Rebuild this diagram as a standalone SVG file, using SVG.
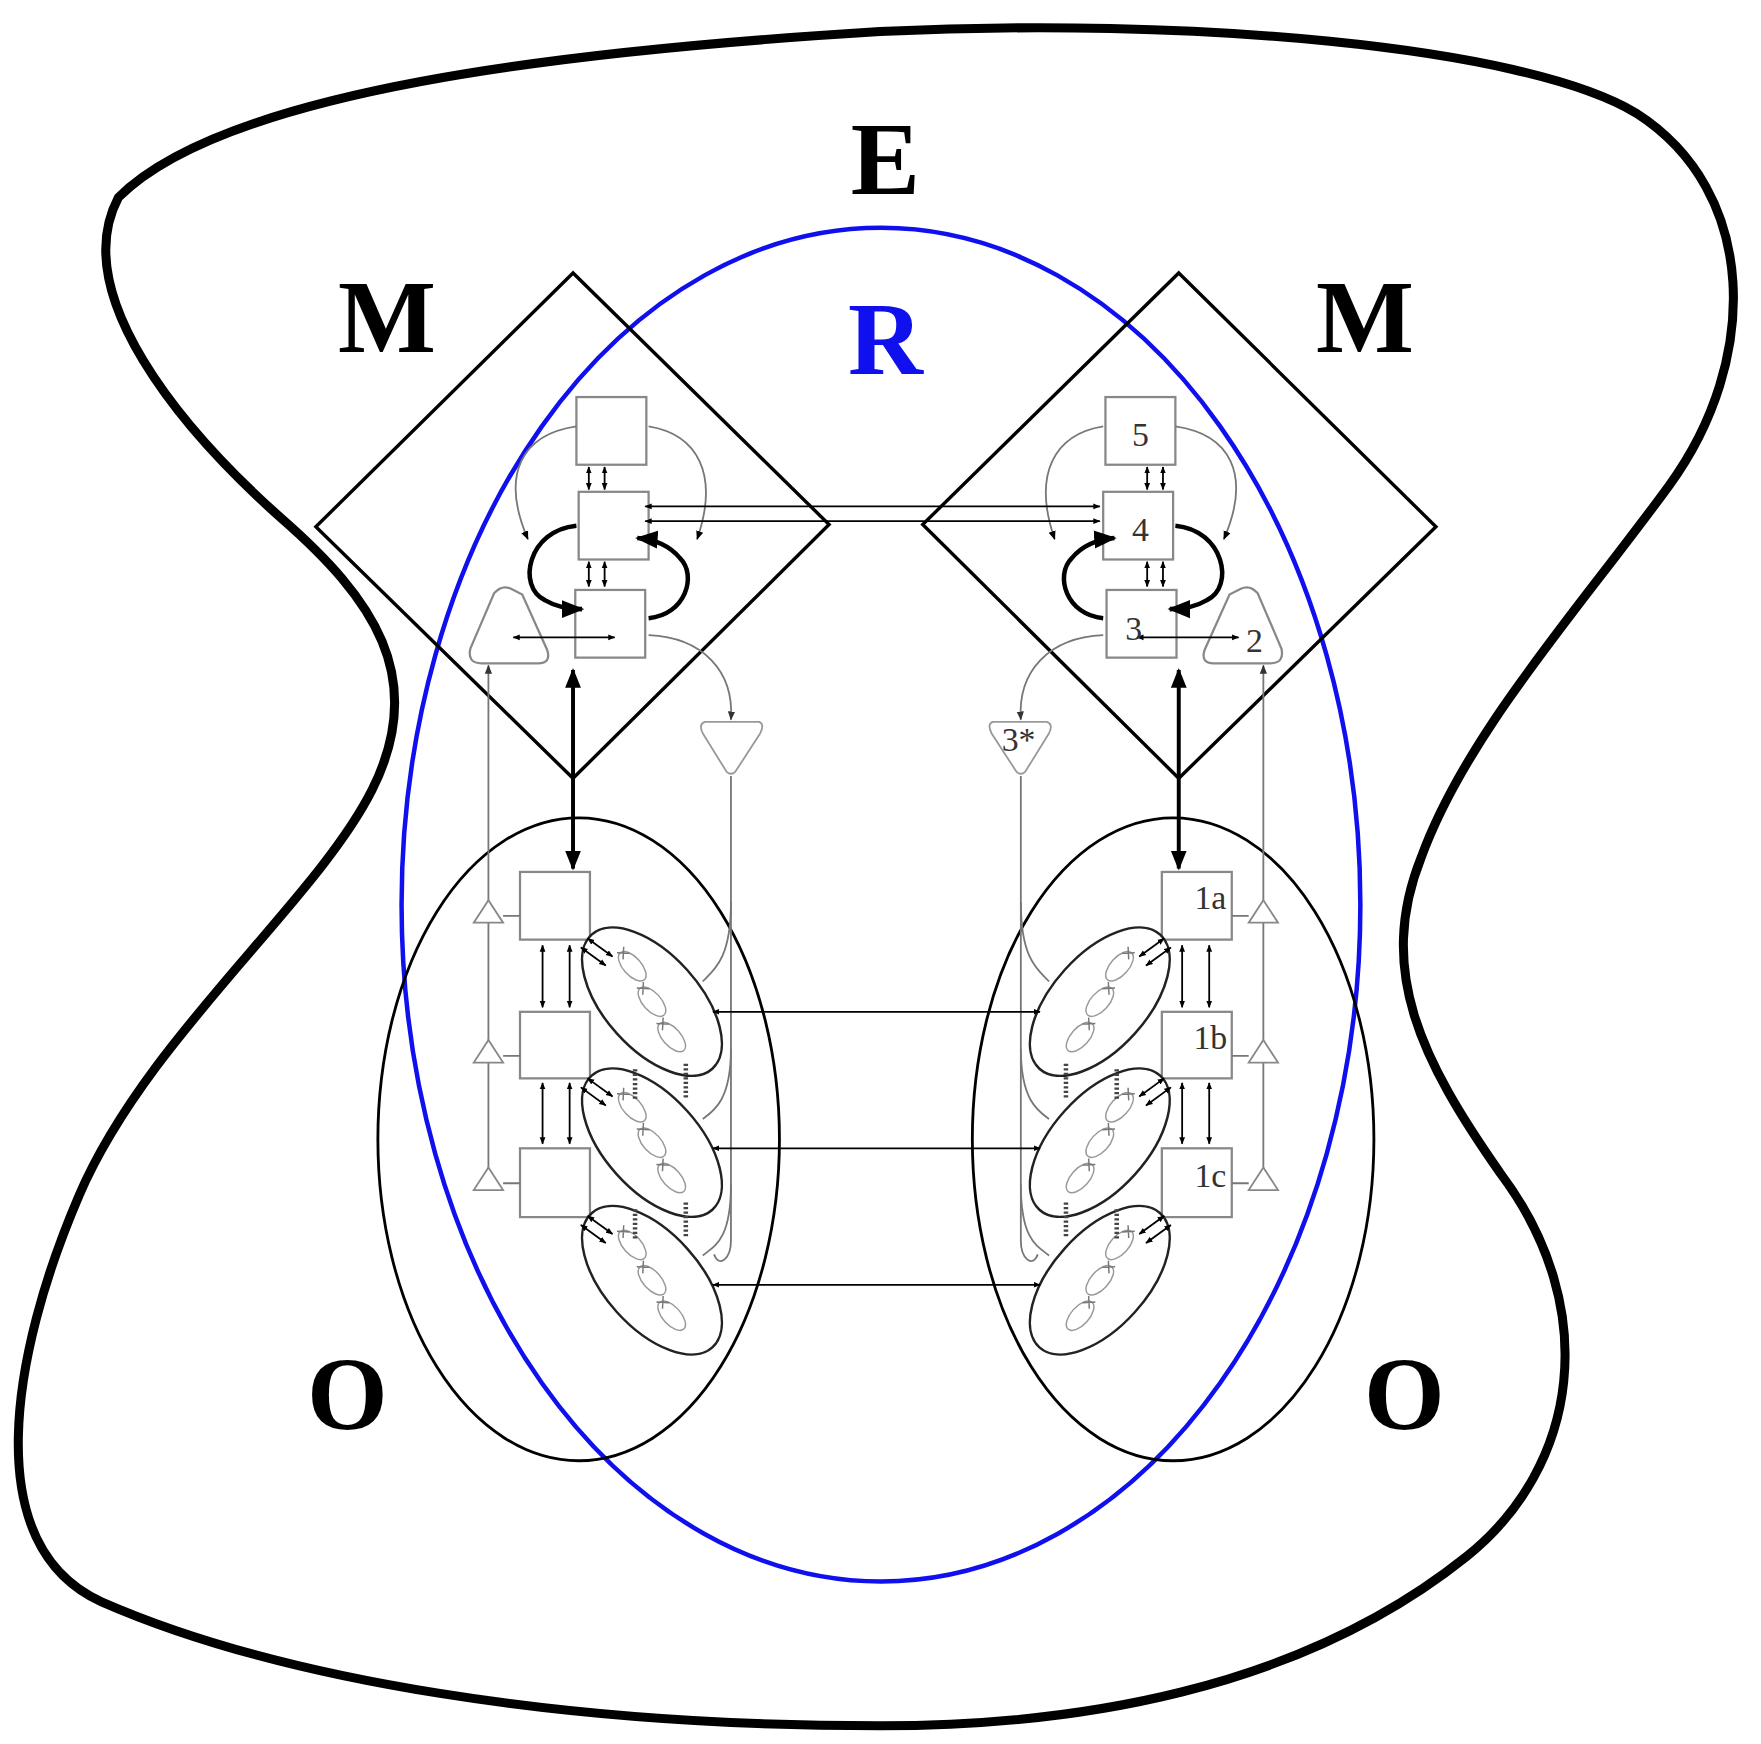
<svg xmlns="http://www.w3.org/2000/svg" width="1761" height="1744" viewBox="0 0 1761 1744">
<defs>
<marker id="a" viewBox="0 0 10 10" refX="9" refY="5" markerWidth="5" markerHeight="5" orient="auto-start-reverse"><path d="M0,1 L10,5 L0,9 z" fill="#000"/></marker>
<marker id="ag" viewBox="0 0 10 10" refX="9" refY="5" markerWidth="5" markerHeight="5" orient="auto-start-reverse"><path d="M0,1 L10,5 L0,9 z" fill="#333"/></marker>
<marker id="ab" viewBox="0 0 10 10" refX="9" refY="5" markerWidth="4" markerHeight="4" orient="auto-start-reverse"><path d="M0,1 L10,5 L0,9 z" fill="#000"/></marker>
<g id="eg">
<ellipse cx="0" cy="0" rx="80" ry="42" fill="#fff" stroke="#222" stroke-width="2.2"/>
<ellipse cx="35" cy="-8" rx="16" ry="8" fill="none" stroke="#999" stroke-width="1.3"/>
<ellipse cx="0" cy="0" rx="16" ry="8" fill="none" stroke="#999" stroke-width="1.3"/>
<ellipse cx="-35" cy="8" rx="16" ry="8" fill="none" stroke="#999" stroke-width="1.3"/>
<path d="M45,-14 l8,8 M45,-6 l8,-8 M10,-6 l8,8 M10,2 l8,-8 M-25,2 l8,8 M-25,10 l8,-8" stroke="#777" stroke-width="1.3"/>
</g>
</defs>
<style>
.big{font-family:"Liberation Serif",serif;font-weight:bold;font-size:92px;text-anchor:middle}
.lab{font-family:"Liberation Serif",serif;font-size:30px;fill:#333}
.bx{fill:#fff;stroke:#888;stroke-width:2}
.g{fill:none;stroke:#777;stroke-width:1.6}
.k{fill:none;stroke:#000;stroke-width:1.6}
.d{fill:none;stroke:#000;stroke-width:1.6;marker-start:url(#ab);marker-end:url(#ab)}
.kk{fill:none;stroke:#000;stroke-width:4}
</style>
<rect width="1761" height="1744" fill="#fff"/>
<g transform="scale(1.128)">
<g id="environment">
<path d="M105,175 C200,80 500,45 780,28 C1050,15 1350,40 1450,100 C1560,170 1560,320 1480,430 C1400,540 1300,650 1260,760 C1220,860 1260,940 1330,1040 C1420,1160 1400,1300 1300,1380 C1150,1500 950,1530 780,1530 C500,1530 250,1490 90,1420 C-20,1370 10,1200 70,1060 C130,920 280,800 330,700 C380,600 330,530 250,460 C160,380 60,260 105,175 Z" fill="none" stroke="#000" stroke-width="8"/>
<text class="big" x="785" y="172">E</text>
</g>
<g id="realm">
<ellipse cx="781" cy="802" rx="425" ry="600" fill="none" stroke="#1010ee" stroke-width="4"/>
<text class="big" x="785" y="332" fill="#1010ee">R</text>
</g>
<g id="systemR">
<g id="sysR">
<polygon points="1045,242 1273,467 1045,690 818,465" fill="none" stroke="#000" stroke-width="3"/>
<ellipse cx="1040" cy="1010" rx="178" ry="285" fill="none" stroke="#000" stroke-width="2.5"/>
<rect class="bx" x="980" y="352" width="62" height="60"/>
<rect class="bx" x="978" y="436" width="62" height="60"/>
<rect class="bx" x="981" y="523" width="62" height="60"/>
<path d="M1100,522 Q1108,518 1115,526 L1136,575 Q1139,588 1126,588 L1076,588 Q1064,588 1068,576 L1090,527 Z" fill="#fff" stroke="#888" stroke-width="2"/>
<path d="M880,640 L928,640 Q934,642 930,650 L909,684 Q905,688 901,684 L879,650 Q875,642 880,640 Z" fill="#fff" stroke="#999" stroke-width="1.6"/>
<path class="d" d="M1017,414 L1017,434"/>
<path class="d" d="M1031,414 L1031,434"/>
<path class="d" d="M1017,498 L1017,520"/>
<path class="d" d="M1031,498 L1031,520"/>
<path class="g" d="M978,378 C935,385 915,420 935,478" marker-end="url(#a)"/>
<path class="g" d="M1042,378 C1090,385 1110,420 1085,478" marker-end="url(#a)"/>
<path class="kk" d="M978,548 C945,545 935,510 950,495 C960,483 975,478 988,477" marker-end="url(#a)"/>
<path class="kk" d="M1042,466 C1085,470 1095,520 1070,532 C1060,538 1048,540 1037,540" marker-end="url(#a)"/>
<path class="d" d="M1008,565 L1098,565"/>
<path class="g" d="M978,563 C930,565 902,595 905,638" marker-end="url(#ag)"/>
<path d="M1045,594 L1045,770" fill="none" stroke="#000" stroke-width="3.5" marker-start="url(#a)" marker-end="url(#a)"/>
<path class="g" d="M1120,590 L1120,1042" marker-start="url(#ag)"/>
<path class="g" d="M905,688 L905,1100 C905,1115 915,1125 920,1112"/>
<path class="g" d="M905,800 C905,850 920,860 930,870 M905,930 C905,975 920,985 930,992 M905,1050 C905,1100 920,1105 930,1113"/>
<rect class="bx" x="1030" y="773" width="62" height="60"/>
<rect class="bx" x="1030" y="897" width="62" height="59"/>
<rect class="bx" x="1030" y="1018" width="62" height="61"/>
<path d="M1120,798 L1133,818 L1107,818 Z M1120,922 L1133,942 L1107,942 Z M1120,1035 L1133,1055 L1107,1055 Z" fill="#fff" stroke="#888" stroke-width="1.6"/>
<path class="g" d="M1092,812 L1107,812 M1092,936 L1107,936 M1092,1049 L1107,1049"/>
<path class="d" d="M1048,838 L1048,893"/>
<path class="d" d="M1072,838 L1072,893"/>
<path class="d" d="M1048,960 L1048,1014"/>
<path class="d" d="M1072,960 L1072,1014"/>
<use href="#eg" transform="translate(975,888) rotate(-48)"/>
<use href="#eg" transform="translate(975,1013) rotate(-48)"/>
<use href="#eg" transform="translate(975,1135) rotate(-48)"/>
<path class="d" d="M1010,848 L1032,832"/>
<path class="d" d="M1016,856 L1038,840"/>
<path class="d" d="M1010,972 L1032,956"/>
<path class="d" d="M1016,980 L1038,964"/>
<path class="d" d="M1010,1094 L1032,1078"/>
<path class="d" d="M1016,1102 L1038,1086"/>
<path d="M945,943 l0,30 M990,948 l0,28 M945,1066 l0,30 M990,1072 l0,28" stroke="#444" stroke-width="4" stroke-dasharray="2 2"/>
</g>
<text class="lab" x="1011" y="395" text-anchor="middle" font-size="36">5</text>
<text class="lab" x="1011" y="480" text-anchor="middle" font-size="36">4</text>
<text class="lab" x="1005" y="567" text-anchor="middle" font-size="36">3</text>
<text class="lab" x="1112" y="578" text-anchor="middle" font-size="36">2</text>
<text class="lab" x="903" y="666" text-anchor="middle" font-size="20" fill="#999">3*</text>
<text class="lab" x="1073" y="806" text-anchor="middle">1a</text>
<text class="lab" x="1073" y="930" text-anchor="middle">1b</text>
<text class="lab" x="1073" y="1052" text-anchor="middle">1c</text>
<text class="big" x="1210" y="312">M</text>
<text class="big" x="1245" y="1267">O</text>
</g>
<g id="systemL">
<use href="#sysR" transform="translate(1553,0) scale(-1,1)"/>
<text class="big" x="343" y="312">M</text>
<text class="big" x="308" y="1267">O</text>
</g>
<g id="connectors">
<path class="d" d="M572,449 L975,449"/>
<path class="d" d="M572,462 L975,462"/>
<path class="d" d="M632,897 L922,897"/>
<path class="d" d="M632,1018 L922,1018"/>
<path class="d" d="M632,1139 L922,1139"/>
</g>
</g>
</svg>
